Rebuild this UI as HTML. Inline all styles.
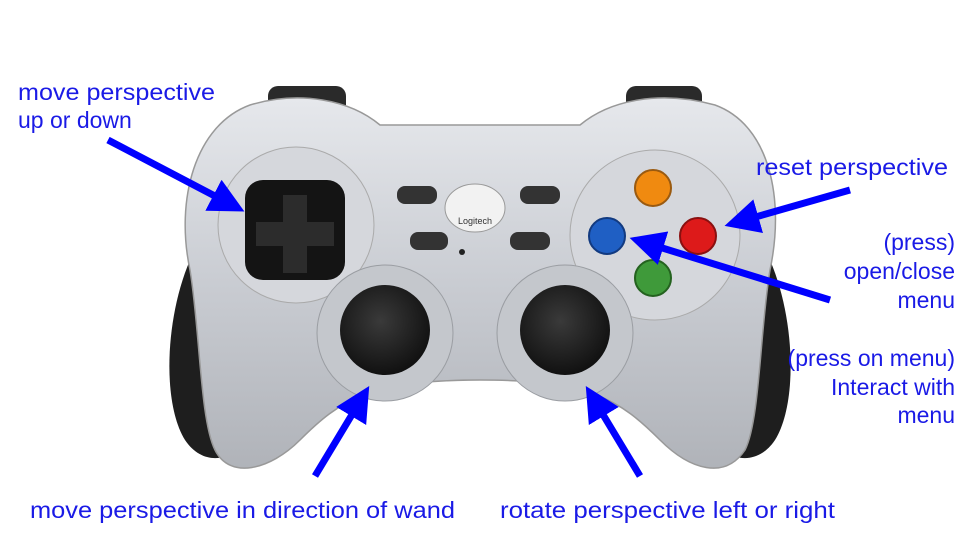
<!DOCTYPE html>
<html><head><meta charset="utf-8">
<style>
html,body{margin:0;padding:0;background:#fff;}
svg{display:block;}
text{font-family:"Liberation Sans","DejaVu Sans",sans-serif;font-size:23px;fill:#1a1ae6;}
</style></head>
<body>
<svg width="960" height="540" viewBox="0 0 960 540">
<defs>
<linearGradient id="body" x1="0" y1="0" x2="0" y2="1">
<stop offset="0" stop-color="#e6e8ec"/><stop offset="0.5" stop-color="#c9ccd2"/><stop offset="1" stop-color="#b0b3b9"/>
</linearGradient>
<radialGradient id="stick" cx="0.45" cy="0.4" r="0.6">
<stop offset="0" stop-color="#3a3a3a"/><stop offset="1" stop-color="#111"/>
</radialGradient>
<marker id="ah" markerWidth="5" markerHeight="5" refX="3" refY="2.5" orient="auto" markerUnits="strokeWidth">
<path d="M0,0 L5,2.5 L0,5 Z" fill="#0000ff"/>
</marker>
</defs>
<g>
<rect x="268" y="86" width="78" height="30" rx="10" fill="#2a2a2a"/>
<rect x="626" y="86" width="76" height="30" rx="10" fill="#2a2a2a"/>
<path d="M200,240 C165,300 160,400 185,440 C205,470 240,460 250,430 L255,260 Z" fill="#1e1e1e"/>
<path d="M760,240 C795,300 800,400 775,440 C755,470 720,460 710,430 L705,260 Z" fill="#1e1e1e"/>
<path d="M250,105 C300,90 350,100 380,125 L580,125 C610,100 660,90 715,105 C770,125 785,200 770,270 C760,330 760,420 745,450 C725,480 690,470 660,440 C620,400 590,380 480,380 C370,380 340,400 300,440 C270,470 230,480 215,450 C200,420 200,330 190,270 C175,200 195,125 250,105 Z" fill="url(#body)" stroke="#999" stroke-width="1.5"/>
<circle cx="296" cy="225" r="78" fill="#d5d7dc" stroke="#aaa"/>
<circle cx="655" cy="235" r="85" fill="#d5d7dc" stroke="#aaa"/>
<rect x="245" y="180" width="100" height="100" rx="18" fill="#141414"/>
<path d="M283,195 h24 v27 h27 v24 h-27 v27 h-24 v-27 h-27 v-24 h27 Z" fill="#2c2c2c"/>
<ellipse cx="475" cy="208" rx="30" ry="24" fill="#f2f2f2" stroke="#999"/>
<text x="475" y="224" text-anchor="middle" style="font-size:9px;fill:#333">Logitech</text>
<rect x="397" y="186" width="40" height="18" rx="8" fill="#333"/>
<rect x="410" y="232" width="38" height="18" rx="8" fill="#333"/>
<rect x="520" y="186" width="40" height="18" rx="8" fill="#333"/>
<rect x="510" y="232" width="40" height="18" rx="8" fill="#333"/>
<circle cx="462" cy="252" r="3" fill="#222"/>
<circle cx="385" cy="333" r="68" fill="#c4c7cc" stroke="#9a9da2"/>
<circle cx="385" cy="330" r="45" fill="url(#stick)"/>
<circle cx="565" cy="333" r="68" fill="#c4c7cc" stroke="#9a9da2"/>
<circle cx="565" cy="330" r="45" fill="url(#stick)"/>
<circle cx="653" cy="188" r="18" fill="#f08a10" stroke="#9a5a10" stroke-width="2"/>
<circle cx="698" cy="236" r="18" fill="#dd1a1a" stroke="#8a1010" stroke-width="2"/>
<circle cx="607" cy="236" r="18" fill="#1f5fc4" stroke="#123a80" stroke-width="2"/>
<circle cx="653" cy="278" r="18" fill="#3f9a3a" stroke="#24621f" stroke-width="2"/>
</g>
<g stroke="#0000ff" stroke-width="7" fill="none">
<line x1="108" y1="140" x2="232" y2="205" marker-end="url(#ah)"/>
<line x1="315" y1="476" x2="362" y2="398" marker-end="url(#ah)"/>
<line x1="640" y1="476" x2="593" y2="398" marker-end="url(#ah)"/>
<line x1="830" y1="300" x2="643" y2="242" marker-end="url(#ah)"/>
<line x1="850" y1="190" x2="738" y2="222" marker-end="url(#ah)"/>
</g>
<g>
<text x="18" y="100" textLength="197" lengthAdjust="spacingAndGlyphs">move perspective</text>
<text x="18" y="128">up or down</text>
<text x="948" y="175" text-anchor="end" textLength="192" lengthAdjust="spacingAndGlyphs">reset perspective</text>
<text x="955" y="250" text-anchor="end">(press)</text>
<text x="955" y="279" text-anchor="end">open/close</text>
<text x="955" y="308" text-anchor="end">menu</text>
<text x="955" y="366" text-anchor="end">(press on menu)</text>
<text x="955" y="395" text-anchor="end">Interact with</text>
<text x="955" y="423" text-anchor="end">menu</text>
<text x="30" y="518" textLength="425" lengthAdjust="spacingAndGlyphs">move perspective in direction of wand</text>
<text x="500" y="518" textLength="335" lengthAdjust="spacingAndGlyphs">rotate perspective left or right</text>
</g>
</svg>
</body></html>
